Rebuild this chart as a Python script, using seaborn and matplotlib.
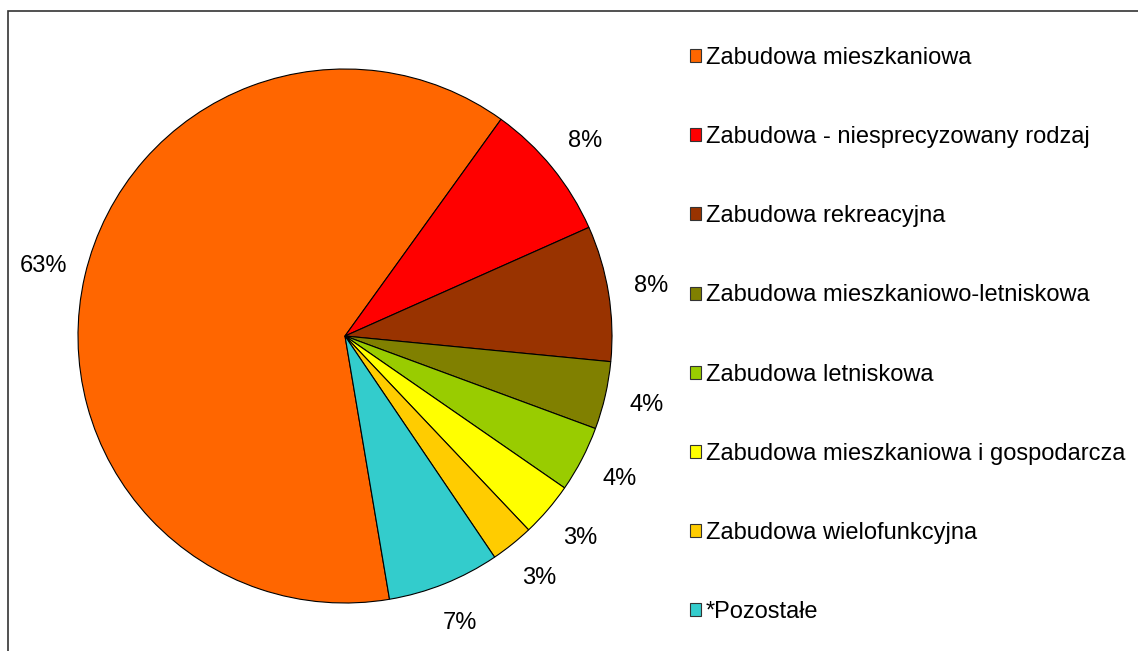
import matplotlib
matplotlib.use("Agg")
import matplotlib.pyplot as plt
import seaborn as sns
from matplotlib.patches import Rectangle, Patch

categories = [
    "Zabudowa mieszkaniowa",
    "Zabudowa - niesprecyzowany rodzaj",
    "Zabudowa rekreacyjna",
    "Zabudowa mieszkaniowo-letniskowa",
    "Zabudowa letniskowa",
    "Zabudowa mieszkaniowa i gospodarcza",
    "Zabudowa wielofunkcyjna",
    "*Pozostałe",
]
shares = [62.6, 8.4, 8.2, 4.1, 4.0, 3.3, 2.6, 6.8]
colors = ["#FF6600", "#FF0000", "#993300", "#808000",
          "#99CC00", "#FFFF00", "#FFCC00", "#33CCCC"]

sns.set_theme(style="white")
plt.rcParams["font.family"] = ["Liberation Sans", "DejaVu Sans"]
plt.rcParams["text.color"] = "black"

W, H = 1138, 651
fig = plt.figure(figsize=(W / 100, H / 100), dpi=100)
fig.patch.set_facecolor("white")

# pie axes: centre (345, 336) px, radius 267 px, limits +-1.25
cx, cy, r = 345, 336, 267
half = 1.25 * r
ax = fig.add_axes([(cx - half) / W, (H - cy - half) / H, 2 * half / W, 2 * half / H])
wedges, texts, autotexts = ax.pie(
    shares,
    colors=colors,
    startangle=-80.4,
    counterclock=False,
    autopct=lambda p: f"{p:.0f}%",
    pctdistance=1.16,
    wedgeprops=dict(edgecolor="black", linewidth=0.8),
    textprops=dict(fontsize=17, color="black"),
)
ax.set_xlim(-1.25, 1.25)
ax.set_ylim(-1.25, 1.25)
ax.set_aspect("equal")
ax.axis("off")

handles = [Patch(facecolor=c, edgecolor="#333333", linewidth=0.8) for c in colors]
fig.legend(
    handles, categories,
    loc="upper left",
    bbox_to_anchor=(690 / W, 1 - 47 / H),
    frameon=False,
    fontsize=17,
    labelspacing=2.42,
    handlelength=0.47,
    handleheight=0.47,
    handletextpad=0.2,
    borderpad=0,
    borderaxespad=0,
    labelcolor="black",
)

# outer chart-area frame (right and bottom edges cropped)
fig.patches.append(Rectangle((8 / W, -0.05), 1.2, 1.05 - 11 / H,
                             transform=fig.transFigure, fill=False,
                             edgecolor="#333333", linewidth=1.2))

fig.savefig("out.png", dpi=100)
